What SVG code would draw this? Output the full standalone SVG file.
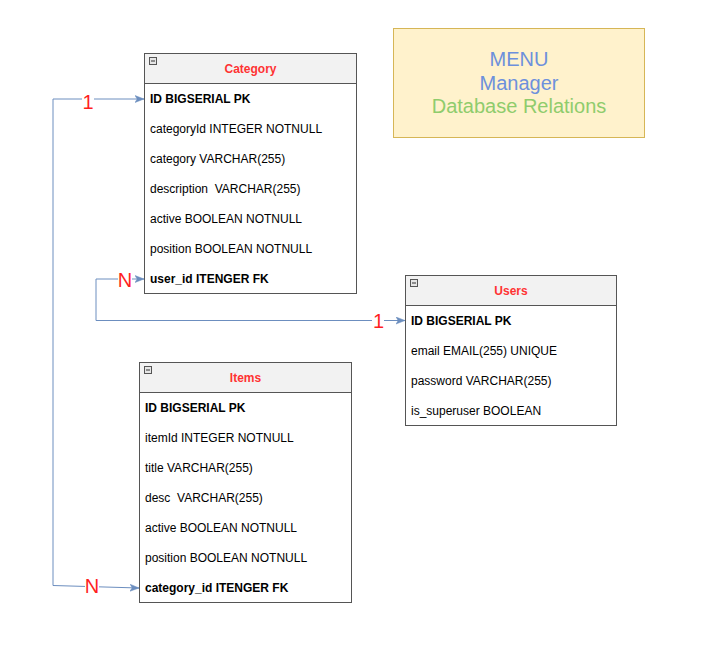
<svg xmlns="http://www.w3.org/2000/svg" width="706" height="668" viewBox="0 0 706 668">
<style>
.box{fill:#ffffff;stroke:#555555;stroke-width:1}
.hdr{fill:#f2f2f2;stroke:#555555;stroke-width:1}
.ttl{font-family:"Liberation Sans",Arial,sans-serif;font-size:12px;font-weight:bold;fill:#ff3333;text-anchor:middle}
.fld{font-family:"Liberation Sans",Arial,sans-serif;font-size:12px;fill:#000000}
.b{font-weight:bold}
.ico{fill:#e6e6e6;stroke:#555555;stroke-width:1}
.con{fill:none;stroke:#6c8ebf;stroke-width:1}
.lbl{font-family:"Liberation Sans",Arial,sans-serif;font-size:20px;fill:#ff1f1f;text-anchor:middle}
.lbg{fill:#ffffff}
</style>
<defs>
<marker id="arr" markerUnits="userSpaceOnUse" markerWidth="12" markerHeight="10" refX="9" refY="4" orient="auto-start-reverse">
<path d="M0,0.5 L9,4 L0,7.5 L2.2,4 Z" fill="#6c8ebf" stroke="#6c8ebf" stroke-width="0.5"/>
</marker>
</defs>
<rect width="706" height="668" fill="#ffffff"/>

<g id="menu">
<rect x="393.5" y="28.5" width="251" height="109" fill="#fff2cc" stroke="#d6b656"/>
<text x="519" y="66" font-family="'Liberation Sans',Arial,sans-serif" font-size="20" fill="#6d90dc" text-anchor="middle">MENU</text>
<text x="519" y="89.5" font-family="'Liberation Sans',Arial,sans-serif" font-size="20" fill="#6d90dc" text-anchor="middle">Manager</text>
<text x="519" y="113" font-family="'Liberation Sans',Arial,sans-serif" font-size="20" fill="#8fcc6c" text-anchor="middle">Database Relations</text>
</g>

<g id="category">
<rect class="box" x="144.5" y="53.5" width="212" height="240"/>
<rect class="hdr" x="144.5" y="53.5" width="212" height="30"/>
<rect class="ico" x="149.5" y="57.5" width="7" height="7"/>
<line x1="151" y1="61" x2="155" y2="61" stroke="#333" stroke-width="1"/>
<text class="ttl" x="250.5" y="73">Category</text>
<text class="fld b" x="150" y="103">ID BIGSERIAL PK</text>
<text class="fld" x="150" y="133">categoryId INTEGER NOTNULL</text>
<text class="fld" x="150" y="163">category VARCHAR(255)</text>
<text class="fld" x="150" y="193" xml:space="preserve">description  VARCHAR(255)</text>
<text class="fld" x="150" y="223">active BOOLEAN NOTNULL</text>
<text class="fld" x="150" y="253">position BOOLEAN NOTNULL</text>
<text class="fld b" x="150" y="283">user_id ITENGER FK</text>
</g>

<g id="users">
<rect class="box" x="405.5" y="275.5" width="211" height="150"/>
<rect class="hdr" x="405.5" y="275.5" width="211" height="30"/>
<rect class="ico" x="410.5" y="279.5" width="7" height="7"/>
<line x1="412" y1="283" x2="416" y2="283" stroke="#333" stroke-width="1"/>
<text class="ttl" x="511" y="295">Users</text>
<text class="fld b" x="411" y="325">ID BIGSERIAL PK</text>
<text class="fld" x="411" y="355">email EMAIL(255) UNIQUE</text>
<text class="fld" x="411" y="385">password VARCHAR(255)</text>
<text class="fld" x="411" y="415">is_superuser BOOLEAN</text>
</g>

<g id="items">
<rect class="box" x="139.5" y="362.5" width="212" height="240"/>
<rect class="hdr" x="139.5" y="362.5" width="212" height="30"/>
<rect class="ico" x="144.5" y="366.5" width="7" height="7"/>
<line x1="146" y1="370" x2="150" y2="370" stroke="#333" stroke-width="1"/>
<text class="ttl" x="245.5" y="382">Items</text>
<text class="fld b" x="145" y="412">ID BIGSERIAL PK</text>
<text class="fld" x="145" y="442">itemId INTEGER NOTNULL</text>
<text class="fld" x="145" y="472">title VARCHAR(255)</text>
<text class="fld" x="145" y="502" xml:space="preserve">desc  VARCHAR(255)</text>
<text class="fld" x="145" y="532">active BOOLEAN NOTNULL</text>
<text class="fld" x="145" y="562">position BOOLEAN NOTNULL</text>
<text class="fld b" x="145" y="592">category_id ITENGER FK</text>
</g>

<g id="connectors">
<path class="con" d="M139,588 L53,585.5 L53,99 L144,99" marker-start="url(#arr)" marker-end="url(#arr)"/>
<path class="con" d="M144,279 L96,279 L96,320.5 L405,320.5" marker-start="url(#arr)" marker-end="url(#arr)"/>
<rect class="lbg" x="82" y="91" width="12" height="20"/>
<text class="lbl" x="88" y="109">1</text>
<rect class="lbg" x="118" y="270" width="14" height="20"/>
<text class="lbl" x="125" y="287">N</text>
<rect class="lbg" x="85" y="576" width="14" height="20"/>
<text class="lbl" x="92" y="593">N</text>
<rect class="lbg" x="372" y="311" width="12" height="20"/>
<text class="lbl" x="378.5" y="328">1</text>
</g>
</svg>
